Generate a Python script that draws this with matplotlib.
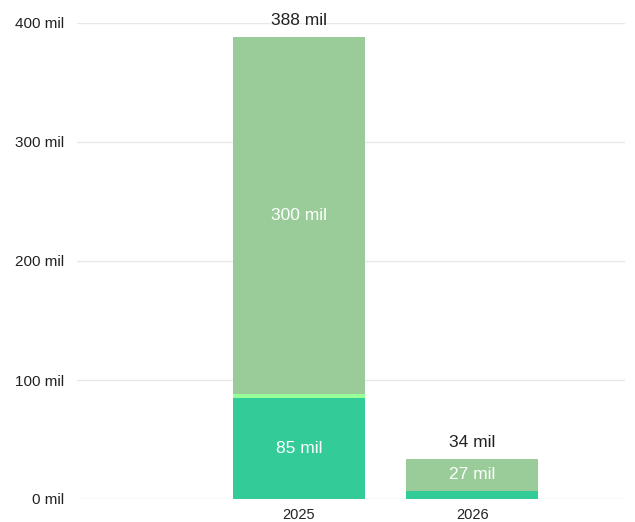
import matplotlib.pyplot as plt
import numpy as np

plt.rcParams['font.family'] = ['Liberation Sans', 'DejaVu Sans']

years = ['2025', '2026']
base = [85, 7]        # dark green
middle = [3, 0]       # thin light strip
top = [300, 27]       # pale green
totals = [388, 34]

fig = plt.figure(figsize=(6.35, 5.22), dpi=100)
ax = fig.add_axes([77 / 635, 23 / 522, 548 / 635, 476 / 522])

x = np.arange(len(years))
w = 0.76
ax.bar(x, base, w, color='#33cc99', zorder=2)
ax.bar(x, middle, w, bottom=base, color='#99ff99', zorder=2)
bottom2 = np.array(base) + np.array(middle)
ax.bar(x, top, w, bottom=bottom2, color='#99cc99', zorder=2)

for i in range(len(years)):
    if base[i] > 20:
        ax.text(x[i], base[i] / 2, f'{base[i]} mil', ha='center', va='center',
                color='white', fontsize=12.5)
    ax.text(x[i], bottom2[i] + top[i] / 2, f'{top[i]} mil', ha='center',
            va='center', color='white', fontsize=12.5)
    ax.text(x[i], totals[i] + 7.5, f'{totals[i]} mil', ha='center', va='bottom',
            color='#222222', fontsize=12.5, clip_on=False)

ax.set_xlim(-1.28, 1.88)
ax.set_ylim(0, 400)
ax.set_yticks([0, 100, 200, 300, 400])
ax.set_yticklabels([f'{v} mil' for v in [0, 100, 200, 300, 400]])
ax.set_xticks(x)
ax.set_xticklabels(years)
ax.tick_params(axis='y', length=0, pad=9.5, labelsize=11, labelcolor='#222222')
ax.tick_params(axis='x', length=0, pad=6.5, labelsize=10.5, labelcolor='#222222')
ax.grid(axis='y', color='#e8e8e8', linewidth=1, zorder=0)
for s in ax.spines.values():
    s.set_visible(False)

fig.savefig('out.png', dpi=100)
